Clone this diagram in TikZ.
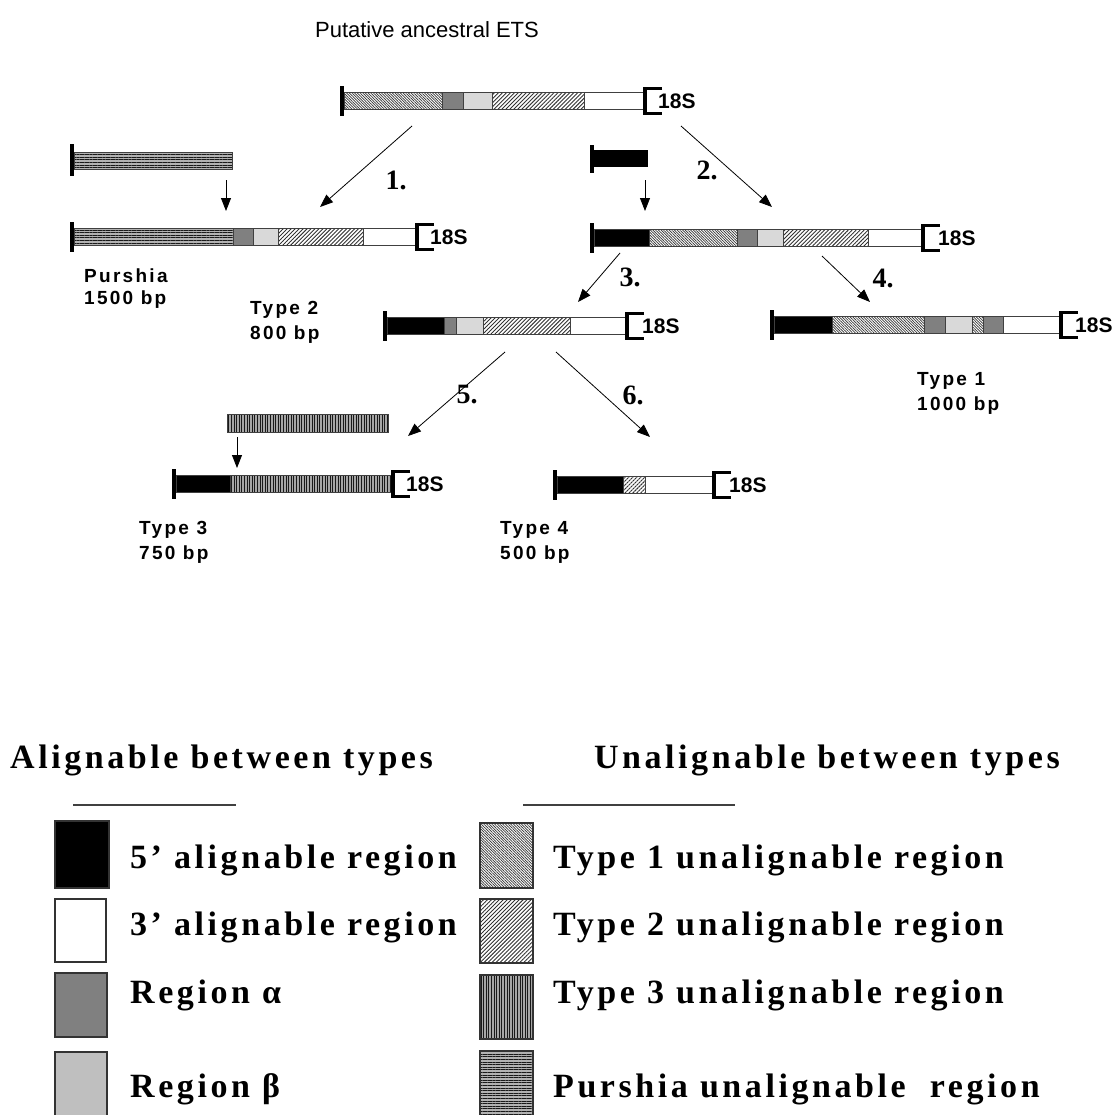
\documentclass[tikz,border=0pt]{standalone}
\usepackage{fontspec}
\setmainfont{Liberation Serif}
\newfontfamily\sansfnt{Liberation Sans}
\newfontfamily\lblfnt[LetterSpace=12]{Liberation Sans}
\newfontfamily\lgdfnt[LetterSpace=10.5]{Liberation Serif}
\usetikzlibrary{arrows.meta,patterns.meta}

% one block of an ETS bar, centred on y = #4
\newcommand\etsseg[4]{\draw[#1] (#2,{#4-8.5}) rectangle (#3,{#4+8.5});}
% thick 5' end cap
\newcommand\etscap[2]{\fill[black] (#1,{#2-15}) rectangle ({#1+4},{#2+15});}
% 18S bracket
\newcommand\etsbrk[2]{\draw[brk] ({#1+17},{#2-12.5}) -- (#1,{#2-12.5}) -- (#1,{#2+12.5}) -- ({#1+17},{#2+12.5});}

\tikzset{
  seg/.style={draw=black!75, line width=0.7pt},
  fk/.style={seg, fill=black},
  fw/.style={seg, fill=white},
  fa/.style={seg, fill=black!50},
  fb/.style={seg, fill=black!15},
  patone/.style={preaction={fill=white},
    pattern={Lines[angle=-45,distance=1.9pt,line width=0.7pt]}, pattern color=black!80},
  pattwo/.style={preaction={fill=white},
    pattern={Lines[angle=45,distance=2.8pt,line width=0.9pt]}, pattern color=black!80},
  patthree/.style={preaction={fill=black!35},
    pattern={Lines[angle=90,distance=2.6pt,line width=1pt]}, pattern color=black!90},
  patpu/.style={preaction={fill=black!30},
    pattern={Lines[angle=0,distance=2.6pt,line width=0.9pt]}, pattern color=black!90},
  ftone/.style={seg, patone},
  fttwo/.style={seg, pattwo},
  ftthree/.style={seg, patthree},
  fpu/.style={seg, patpu},
  brk/.style={line width=3.2pt, black, line join=miter},
  arr/.style={-{Triangle[length=13pt,width=10pt]}, line width=0.8pt, black},
  s18/.style={anchor=west, inner sep=0pt, font=\sansfnt\bfseries\fontsize{21}{24}\selectfont},
  lbl/.style={anchor=west, inner sep=0pt, font=\lblfnt\bfseries\fontsize{19}{22}\selectfont},
  num/.style={inner sep=0pt, font=\bfseries\fontsize{28}{30}\selectfont},
  lgd/.style={anchor=base west, inner sep=0pt, font=\lgdfnt\bfseries\fontsize{34}{40}\selectfont},
  lbox/.style={draw=black!80, line width=2.5pt},
}

\begin{document}
\begin{tikzpicture}[x=1pt,y=-1pt]
\path[use as bounding box] (0,0) rectangle (1118,1114);

% title
\node[inner sep=0pt, font=\sansfnt\fontsize{22}{26}\selectfont] (title) at (427,30) {Putative ancestral ETS};

% ancestral ETS
\etscap{340}{101}
\etsseg{ftone}{344}{442}{101}
\etsseg{fa}{442}{463}{101}
\etsseg{fb}{463}{492}{101}
\etsseg{fttwo}{492}{584}{101}
\etsseg{fw}{584}{643}{101}
\etsbrk{645}{101}
\node[s18] (r0) at (658,101) {18S};

% Purshia insert
\fill[black] (70,144) rectangle (74,176);
\draw[fpu] (74,152) rectangle (232,169);
% Purshia ETS
\etscap{70}{237}
\etsseg{fpu}{74}{233}{237}
\etsseg{fa}{233}{253}{237}
\etsseg{fb}{253}{278}{237}
\etsseg{fttwo}{278}{363}{237}
\etsseg{fw}{363}{415}{237}
\etsbrk{417}{237}
\node[s18] (rp) at (430,237) {18S};

% 5' insert
\fill[black] (590,145) rectangle (594,173);
\fill[black] (594,150) rectangle (648,167);
% intermediate ETS
\etscap{590}{238}
\etsseg{fk}{594}{649}{238}
\etsseg{ftone}{649}{737}{238}
\etsseg{fa}{737}{757}{238}
\etsseg{fb}{757}{783}{238}
\etsseg{fttwo}{783}{868}{238}
\etsseg{fw}{868}{921}{238}
\etsbrk{923}{238}
\node[s18] (ri) at (938,238) {18S};

% Type 2 ETS
\etscap{383}{326}
\etsseg{fk}{387}{444}{326}
\etsseg{fa}{444}{456}{326}
\etsseg{fb}{456}{483}{326}
\etsseg{fttwo}{483}{570}{326}
\etsseg{fw}{570}{625}{326}
\etsbrk{627}{326}
\node[s18] (r2) at (642,326) {18S};

% Type 1 ETS
\etscap{770}{325}
\etsseg{fk}{774}{832}{325}
\etsseg{ftone}{832}{924}{325}
\etsseg{fa}{924}{945}{325}
\etsseg{fb}{945}{972}{325}
\etsseg{ftone}{972}{983}{325}
\etsseg{fa}{983}{1003}{325}
\etsseg{fw}{1003}{1059}{325}
\etsbrk{1061}{325}
\node[s18] (r1) at (1075,325) {18S};

% Type 3 insert
\draw[ftthree] (227,414) rectangle (388,432);
% Type 3 ETS
\etscap{172}{484}
\etsseg{fk}{176}{230}{484}
\etsseg{ftthree}{230}{391}{484}
\etsbrk{393}{484}
\node[s18] (r3) at (406,484) {18S};

% Type 4 ETS
\etscap{553}{485}
\etsseg{fk}{557}{623}{485}
\etsseg{fttwo}{623}{645}{485}
\etsseg{fw}{645}{712}{485}
\etsbrk{714}{485}
\node[s18] (r4) at (729,485) {18S};

% arrow end points
\coordinate (a1s) at (412,126);  \coordinate (a1e) at (320,207);
\coordinate (a2s) at (681,126);  \coordinate (a2e) at (772,207);
\coordinate (a3s) at (620,253);  \coordinate (a3e) at (578,302);
\coordinate (a4s) at (822,256);  \coordinate (a4e) at (870,302);
\coordinate (a5s) at (505,352);  \coordinate (a5e) at (408,436);
\coordinate (a6s) at (556,352);  \coordinate (a6e) at (650,437);
\coordinate (ips) at (226,180);  \coordinate (ipe) at (226,211);
\coordinate (iks) at (645,180);  \coordinate (ike) at (645,211);
\coordinate (its) at (237,437);  \coordinate (ite) at (237,468);

\draw[arr] (a1s) -- (a1e);
\draw[arr] (a2s) -- (a2e);
\draw[arr] (a3s) -- (a3e);
\draw[arr] (a4s) -- (a4e);
\draw[arr] (a5s) -- (a5e);
\draw[arr] (a6s) -- (a6e);
\draw[arr] (ips) -- (ipe);
\draw[arr] (iks) -- (ike);
\draw[arr] (its) -- (ite);

% step numbers
\node[num] (n1) at (396,180) {1.};
\node[num] (n2) at (707,170) {2.};
\node[num] (n3) at (630,277) {3.};
\node[num] (n4) at (883,278) {4.};
\node[num] (n5) at (467,395) {5.};
\node[num] (n6) at (633,395) {6.};

% type labels
\node[lbl] (lp1) at (84,276) {Purshia};
\node[lbl] (lp2) at (84,300) {1500 bp};
\node[lbl] (l21) at (250,310) {Type 2};
\node[lbl] (l22) at (250,335) {800 bp};
\node[lbl] (l11) at (917,381) {Type 1};
\node[lbl] (l12) at (917,406) {1000 bp};
\node[lbl] (l31) at (139,530) {Type 3};
\node[lbl] (l32) at (139,555) {750 bp};
\node[lbl] (l41) at (500,530) {Type 4};
\node[lbl] (l42) at (500,555) {500 bp};

% legend headings
\node[lgd] (hl) at (10,768) {Alignable between types};
\node[lgd, anchor=base east] (hr) at (1060,768) {Unalignable between types};
\draw[line width=1.5pt, black!75] (73,805) -- (236,805);
\draw[line width=1.5pt, black!75] (523,805) -- (735,805);

% legend keys, left column
\draw[lbox, fill=black] (55,821) rectangle (109,888);
\draw[lbox, fill=white] (55,899) rectangle (106,962);
\draw[lbox, fill=black!50] (55,973) rectangle (107,1037);
\draw[lbox, fill=black!25] (55,1052) rectangle (107,1116);
\node[lgd] (k1) at (130,868) {5’ alignable region};
\node[lgd] (k2) at (130,935) {3’ alignable region};
\node[lgd] (k3) at (130,1003) {Region α};
\node[lgd] (k4) at (130,1097) {Region β};

% legend keys, right column
\draw[lbox, patone] (480,823) rectangle (533,888);
\draw[lbox, pattwo] (480,899) rectangle (533,963);
\draw[lbox, patthree] (480,975) rectangle (533,1039);
\draw[lbox, patpu] (480,1051) rectangle (533,1116);
\node[lgd] (u1) at (553,868) {Type 1 unalignable region};
\node[lgd] (u2) at (553,935) {Type 2 unalignable region};
\node[lgd] (u3) at (553,1003) {Type 3 unalignable region};
\node[lgd] (u4) at (553,1097) {Purshia unalignable\ \ region};
\end{tikzpicture}
\end{document}
